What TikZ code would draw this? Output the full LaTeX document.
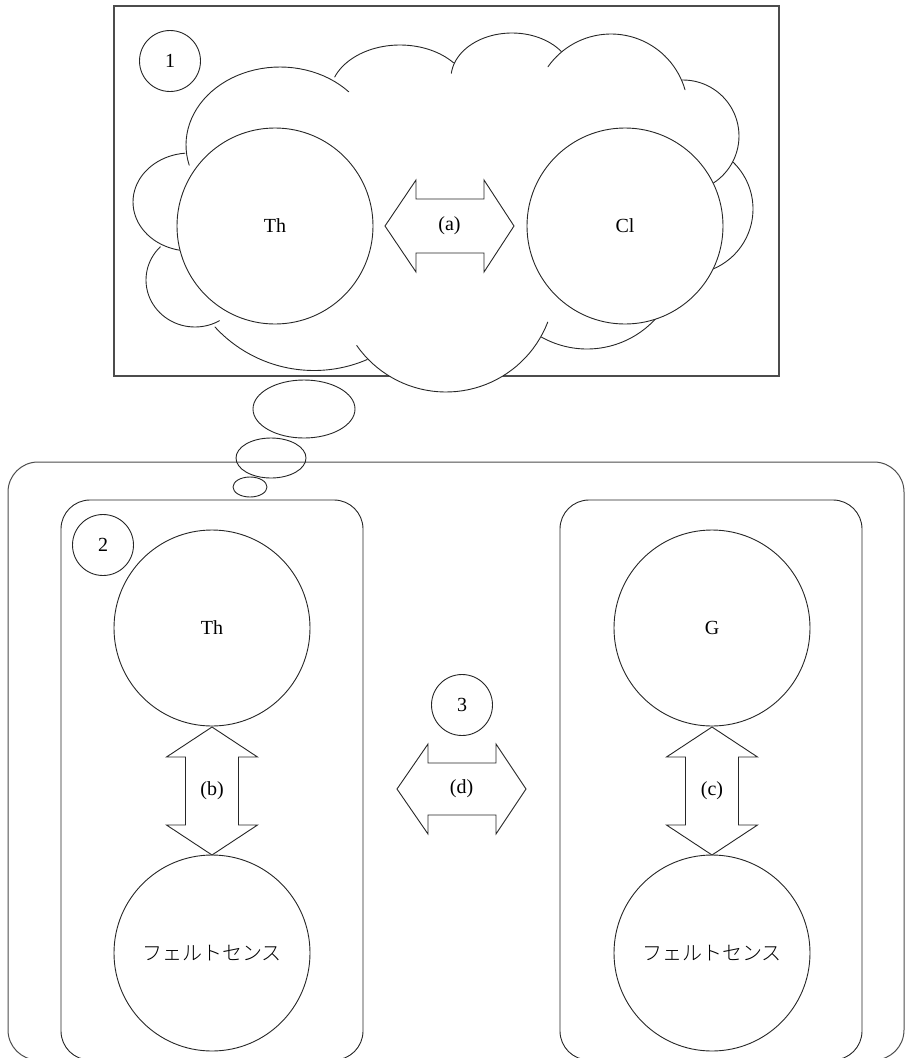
\documentclass[tikz,border=0pt]{standalone}
\usepackage{fontspec}
\setmainfont{Liberation Serif}
\IfFontExistsTF{Noto Sans CJK JP Light}
  {\newfontfamily\jpfont{Noto Sans CJK JP Light}}
  {\newfontfamily\jpfont{Noto Sans CJK JP}}
\begin{document}
\begin{tikzpicture}[x=1pt,y=-1pt,
  ink/.style={draw=black!85, line width=0.9pt},
  frame/.style={draw=black!70, line width=1.2pt},
  bubble/.style={ink, fill=white, circle, inner sep=0pt, minimum size=196pt,
    font=\fontsize{20}{24}\selectfont},
  jptext/.style={font=\fontsize{20}{24}\jpfont, text=black},
  tag/.style={ink, fill=white, circle, inner sep=0pt, minimum size=61pt,
    font=\fontsize{20}{24}\selectfont},
  lbl/.style={inner sep=0pt, font=\fontsize{20}{24}\selectfont},
  blockarrow/.style={ink, fill=white, line join=miter},
  puff/.style={ink, line cap=round},
  thought/.style={ink}]
\useasboundingbox (0,0) rectangle (909,1058);
\clip (0,0) rectangle (909,1058);

% ---------- upper panel ----------
\draw[frame] (114,6) rectangle (779,376);

% cloud: the lowest puff is filled so that it hides the frame line
\fill[white] plot[domain=145:21, samples=40] ({446+109*cos(\x)},{283+109*sin(\x)}) -- cycle;
% cloud outline, one elliptic puff at a time
\draw[puff] plot[domain=265:100, samples=40] ({190+57*cos(\x)},{202+49*sin(\x)});
\draw[puff] plot[domain=225:60, samples=40] ({195+49*cos(\x)},{280+47*sin(\x)});
\draw[puff] plot[domain=137.4:66.7, samples=40] ({314+134.5*cos(\x)},{236+134.5*sin(\x)});
\draw[puff] plot[domain=145:21, samples=40] ({446+109*cos(\x)},{283+109*sin(\x)});
\draw[puff] plot[domain=119.4:42.6, samples=40] ({587+93*cos(\x)},{256+93*sin(\x)});
\draw[puff] plot[domain=67.4:-46, samples=40] ({688+65*cos(\x)},{209+65*sin(\x)});
\draw[puff] plot[domain=269:417, samples=40] ({683+56*cos(\x)},{136+56*sin(\x)});
\draw[puff] plot[domain=215:344, samples=40] ({611+77*cos(\x)},{111+77*sin(\x)});
\draw[puff] plot[domain=186:324, samples=40] ({512+61*cos(\x)},{78+45*sin(\x)});
\draw[puff] plot[domain=201:320, samples=40] ({400+70*cos(\x)},{95+50*sin(\x)});
\draw[puff] plot[domain=165:317, samples=40] ({280+94*cos(\x)},{145+78*sin(\x)});

\node[tag] (n1) at (170,61) {1};
\node[bubble] (th1) at (275,226) {Th};
\node[bubble] (cl) at (625,226) {Cl};
\node[lbl] (la) at (449.5,226) {(a)};
\draw[blockarrow, shift={(la.center)}] (-64.5,0) -- (-33.5,-46) -- (-33.5,-27) -- (34.5,-27)
  -- (34.5,-46) -- (64.5,0) -- (34.5,46) -- (34.5,27) -- (-33.5,27) -- (-33.5,46) -- cycle;
\node[lbl] at (la) {(a)};

% ---------- thought trail ----------
\draw[thought] (304,409) ellipse [x radius=51, y radius=29];

% ---------- lower panel ----------
\draw[frame, line width=1pt, rounded corners=30pt] (8,462) rectangle (904,1060);
\draw[thought] (271,458) ellipse [x radius=35, y radius=20];
\draw[thought] (250,487) ellipse [x radius=17, y radius=10];

\draw[ink, rounded corners=29pt] (61,500) rectangle (363,1060);
\draw[ink, rounded corners=29pt] (560,500) rectangle (862,1060);

\node[tag] (n2) at (103,545) {2};
\node[bubble] (th2) at (212,628) {Th};
\node[bubble, jptext] (fs1) at (212,953) {フェルトセンス};
\node[bubble] (g) at (712,628) {G};
\node[bubble, jptext] (fs2) at (712,953) {フェルトセンス};

\node[lbl] (lb) at (212,791) {(b)};
\draw[blockarrow, shift={(lb.center)}] (0,-64) -- (45.5,-34) -- (26.5,-34) -- (26.5,34)
  -- (45.5,34) -- (0,64) -- (-45.5,34) -- (-26.5,34) -- (-26.5,-34) -- (-45.5,-34) -- cycle;
\node[lbl] at (lb) {(b)};

\node[lbl] (lc) at (712,791) {(c)};
\draw[blockarrow, shift={(lc.center)}] (0,-64) -- (45.5,-34) -- (26.5,-34) -- (26.5,34)
  -- (45.5,34) -- (0,64) -- (-45.5,34) -- (-26.5,34) -- (-26.5,-34) -- (-45.5,-34) -- cycle;
\node[lbl] at (lc) {(c)};

\node[tag] (n3) at (462,705) {3};
\node[lbl] (ld) at (461.5,789) {(d)};
\draw[blockarrow, shift={(ld.center)}] (-64.5,0) -- (-33.5,-45) -- (-33.5,-26) -- (34.5,-26)
  -- (34.5,-45) -- (64.5,0) -- (34.5,45) -- (34.5,26) -- (-33.5,26) -- (-33.5,45) -- cycle;
\node[lbl] at (ld) {(d)};
\end{tikzpicture}
\end{document}
